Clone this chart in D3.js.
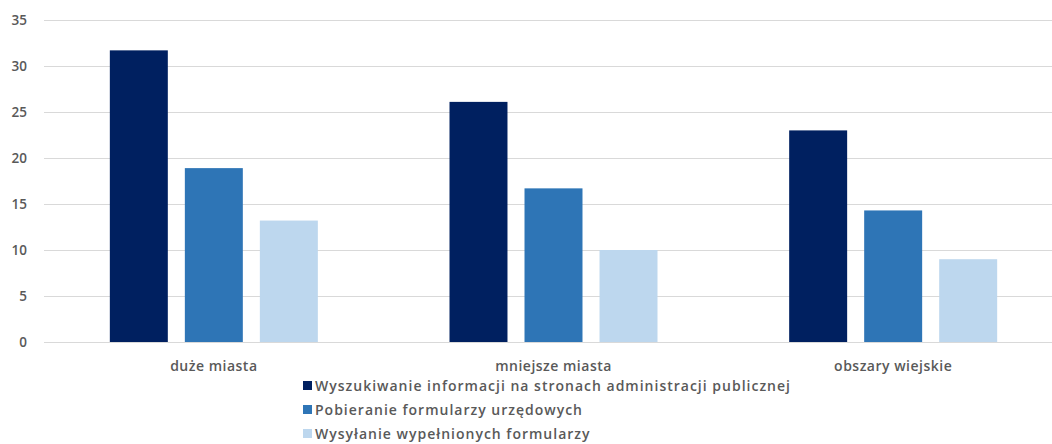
<!DOCTYPE html>
<html><head><meta charset="utf-8">
<script src="https://cdn.jsdelivr.net/npm/d3@7"></script>
<style>
html,body{margin:0;padding:0;background:#fff;}
svg{display:block;}
text{font-family:"Open Sans",sans-serif;fill:#595959;}
</style></head>
<body>
<svg id="chart" width="1052" height="444"></svg>
<script>
const categories = ["duże miasta", "mniejsze miasta", "obszary wiejskie"];
const seriesNames = [
  "Wyszukiwanie informacji na stronach administracji publicznej",
  "Pobieranie formularzy urzędowych",
  "Wysyłanie wypełnionych formularzy"
];
const seriesWyszukiwanie = [31.7, 26.1, 23.0];
const seriesPobieranie = [18.9, 16.7, 14.3];
const seriesWysylanie = [13.2, 10.0, 9.0];
const yTicks = [0, 5, 10, 15, 20, 25, 30, 35];
const colors = ["#002060", "#2E75B6", "#BDD7EE"];

const allSeries = [seriesWyszukiwanie, seriesPobieranie, seriesWysylanie];
const svg = d3.select("#chart");

const y = d3.scaleLinear().domain([0, 35]).range([342, 20]);
const x0 = d3.scaleBand().domain(categories).range([44, 1063]).paddingInner(0).paddingOuter(0);
const groupW = 208;
const x1 = d3.scaleBand().domain(d3.range(3))
  .range([(x0.bandwidth() - groupW) / 2, (x0.bandwidth() + groupW) / 2])
  .paddingInner(0.227).paddingOuter(0);

// gridlines
const yAxis = d3.axisLeft(y).tickValues(yTicks).tickSize(-1060).tickPadding(16);
const gy = svg.append("g").attr("transform", "translate(44,0)").call(yAxis);
gy.select(".domain").remove();
gy.selectAll(".tick line").attr("stroke", "#d9d9d9").attr("stroke-width", 1);
gy.selectAll(".tick text").attr("font-size", 13.5).attr("font-weight", 600).attr("fill", "#595959").attr("x", -17);

// bars
const groups = svg.append("g").selectAll("g").data(categories).join("g")
  .attr("transform", d => `translate(${x0(d)},0)`);
groups.selectAll("rect").data((d, i) => allSeries.map((s, k) => ({k, v: s[i]}))).join("rect")
  .attr("x", d => x1(d.k))
  .attr("width", x1.bandwidth())
  .attr("y", d => y(d.v))
  .attr("height", d => y(0) - y(d.v))
  .attr("fill", d => colors[d.k]);

// category axis
const xAxis = d3.axisBottom(x0).tickSize(0).tickPadding(19);
const gx = svg.append("g").attr("transform", "translate(0,342)").call(xAxis);
gx.select(".domain").remove();
gx.selectAll(".tick text").attr("font-size", 14).attr("font-weight", 600).attr("fill", "#404040")
  .attr("letter-spacing", 0.5);

// legend
const legend = svg.append("g").attr("transform", "translate(303,0)");
const ly = d3.scaleBand().domain(d3.range(3)).range([374, 446]);
const li = legend.selectAll("g").data(seriesNames).join("g")
  .attr("transform", (d, i) => `translate(0,${ly(i) + ly.bandwidth()/2})`);
li.append("rect").attr("x", 0).attr("y", -5).attr("width", 9).attr("height", 9).attr("fill", (d, i) => colors[i]);
li.append("text").attr("x", 12).attr("dy", "0.35em").attr("font-size", 14).attr("font-weight", 600)
  .attr("letter-spacing", 1).attr("fill", "#404040").text(d => d);
</script>
</body></html>
